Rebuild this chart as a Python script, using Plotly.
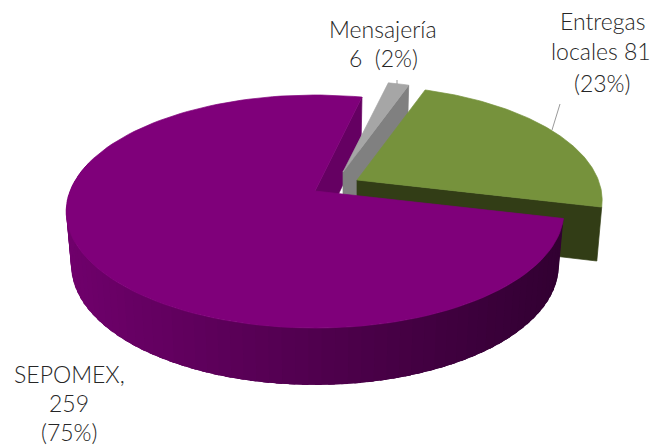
import math
import plotly.graph_objects as go

# --- data ---
categories = ["SEPOMEX", "Mensajería", "Entregas locales"]
values = [259, 6, 81]
percents = [75, 2, 23]
label_lines = [
    ["SEPOMEX,", "259", "(75%)"],
    ["Mensajería", "6  (2%)"],
    ["Entregas", "locales 81", "(23%)"],
]

# --- drawing style ---
FONT = "Lato"
TXT = "#262626"
TOP = ["#7f007a", "#a6a6a6", "#76923c"]
RADIAL = ["#650062", "#808080", "#323d16"]
SIDE_L, SIDE_R = (112, 0, 108), (50, 0, 50)
APEX = [(315, 191), (343, 172), (357, 180)]
RSCALE = [1.0, 0.95, 0.985]
START = 103.5           # clockwise from back of the pie, degrees
A, B, K = 245.0, 112.9, 0.176
label_pos = [[(69, 374), (69, 403), (69, 432)],
             [(383, 29), (383, 58)],
             [(602, 21), (601, 51), (602, 83)]]
leaders = [None, ((397, 80), (397, 84)), ((552, 130), (560, 104))]


def rim(theta, i):
    """Project a rim angle of slice i through the tilted-disc perspective."""
    t = math.radians(theta)
    u, v = math.sin(t), math.cos(t)
    d = 1 + K * v
    ax, ay = APEX[i]
    return ax + RSCALE[i] * A * u / d, ay - RSCALE[i] * B * v / d, v


def down(x, y, v, ax):
    """Point at the bottom of the pie below a top-surface point."""
    return ax + (x - ax) * 0.98, y + 53 - 4 * v


total = sum(values)
spans = []
a = START
for val in values:
    b = a + val / total * 360
    spans.append((a, b))
    a = b

fig = go.Figure()


def poly(xs, ys, color, name=None, lw=0.7):
    fig.add_trace(go.Scatter(
        x=xs + xs[:1], y=ys + ys[:1], mode="lines", fill="toself",
        fillcolor=color, line=dict(color=color, width=lw),
        hoverinfo="skip" if name is None else "text", text=name,
        showlegend=False))


def arc(i, a0, a1, n):
    return [rim(a0 + (a1 - a0) * k / n, i) for k in range(n + 1)]


def top_face(i):
    pts = arc(i, spans[i][0], spans[i][1], 120)
    xs = [APEX[i][0]] + [p[0] for p in pts]
    ys = [APEX[i][1]] + [p[1] for p in pts]
    poly(xs, ys, TOP[i], f"{categories[i]}: {values[i]} ({percents[i]}%)")


def radial_face(i, angle):
    x, y, v = rim(angle, i)
    ax, ay = APEX[i]
    x2, y2 = down(x, y, v, ax)
    x3, y3 = down(ax, ay, 0, ax)
    poly([ax, x, x2, x3], [ay, y, y2, y3], RADIAL[i])


# back to front: purple far cut, grey, green, purple wall and top
radial_face(0, spans[0][1])
radial_face(1, spans[1][1])
top_face(1)
radial_face(2, spans[2][1])
top_face(2)

n = 70
a0, a1 = spans[0][0], 285.0
step = (a1 - a0) / n
for k in range(n):
    t0 = a0 + step * k
    t1 = min(a1, t0 + step * 2.5)   # overlap neighbours so no seams show
    x0, y0, v0 = rim(t0, 0)
    x1, y1, v1 = rim(t1, 0)
    bx0, by0 = down(x0, y0, v0, APEX[0][0])
    bx1, by1 = down(x1, y1, v1, APEX[0][0])
    f = min(1, max(0, (x0 - 64) / 498))
    c = tuple(round(SIDE_L[j] + (SIDE_R[j] - SIDE_L[j]) * f) for j in range(3))
    poly([x0, x1, bx1, bx0], [y0, y1, by1, by0], f"rgb{c}", lw=0)
top_face(0)

for seg in leaders:
    if seg:
        fig.add_trace(go.Scatter(
            x=[seg[0][0], seg[1][0]], y=[seg[0][1], seg[1][1]], mode="lines",
            line=dict(color="#9a9a9a", width=1), hoverinfo="skip", showlegend=False))

for lines, positions in zip(label_lines, label_pos):
    for text, (x, y) in zip(lines, positions):
        fig.add_annotation(x=x, y=y, text=text, showarrow=False,
                           xanchor="center", yanchor="middle",
                           font=dict(family=FONT, size=23, color=TXT, weight=300))

fig.update_layout(
    width=657, height=447, margin=dict(l=0, r=0, t=0, b=0),
    paper_bgcolor="white", plot_bgcolor="white", showlegend=False,
    xaxis=dict(range=[0, 657], visible=False, fixedrange=True),
    yaxis=dict(range=[447, 0], visible=False, fixedrange=True),
)
fig.write_html("out.html", post_script="document.body.style.margin='0';",
               config={"displayModeBar": False})
